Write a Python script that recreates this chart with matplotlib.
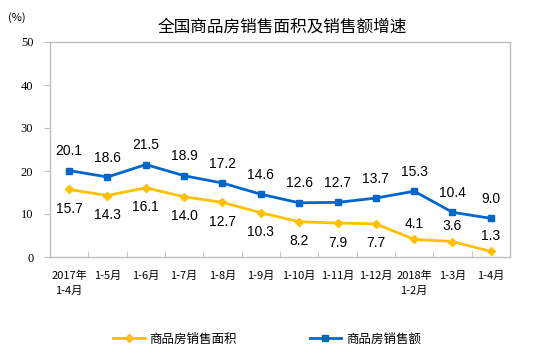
import matplotlib
matplotlib.use("Agg")
import matplotlib.pyplot as plt
import numpy as np

plt.rcParams['font.family'] = ['Noto Sans CJK SC', 'DejaVu Sans']

categories = ["2017年\n1-4月", "1-5月", "1-6月", "1-7月", "1-8月", "1-9月", "1-10月",
              "1-11月", "1-12月", "2018年\n1-2月", "1-3月", "1-4月"]
area = [15.7, 14.3, 16.1, 14.0, 12.7, 10.3, 8.2, 7.9, 7.7, 4.1, 3.6, 1.3]
sales = [20.1, 18.6, 21.5, 18.9, 17.2, 14.6, 12.6, 12.7, 13.7, 15.3, 10.4, 9.0]
area_label_above = [False, False, False, False, False, False, False, False, False, True, True, True]
yticks = [0, 10, 20, 30, 40, 50]

yellow = "#FFC000"
blue = "#0066CC"

fig = plt.figure(figsize=(5.48, 3.53), dpi=100)
ax = fig.add_axes([50/548, 96/353, 460/548, 215/353])
x = np.arange(len(categories))
ax.plot(x, area, color=yellow, lw=2, marker="D", ms=4.5, label="商品房销售面积")
ax.plot(x, sales, color=blue, lw=2, marker="s", ms=4.5, label="商品房销售额")

for xi, v in zip(x, sales):
    ax.annotate(f"{v:.1f}", (xi, v), xytext=(0, 9), textcoords="offset points",
                ha="center", va="bottom", fontsize=10, family="Liberation Sans")
for xi, v, up in zip(x, area, area_label_above):
    if up:
        ax.annotate(f"{v:.1f}", (xi, v), xytext=(0, 6), textcoords="offset points",
                    ha="center", va="bottom", fontsize=10, family="Liberation Sans")
    else:
        ax.annotate(f"{v:.1f}", (xi, v), xytext=(0, -9), textcoords="offset points",
                    ha="center", va="top", fontsize=10, family="Liberation Sans")

ax.set_xlim(-0.5, len(categories) - 0.5)
ax.set_ylim(0, 50)
ax.set_yticks(yticks)
ax.set_yticklabels([str(t) for t in yticks], family="Liberation Serif", fontsize=9)
ax.set_xticks(x)
ax.set_xticklabels(categories, fontsize=8, linespacing=1.6)
ax.set_xticks(np.arange(len(categories) + 1) - 0.5, minor=True)
ax.tick_params(axis="x", which="major", length=0, pad=10)
ax.tick_params(axis="x", which="minor", length=4, direction="in", color="#BFBFBF")
ax.tick_params(axis="y", length=4, direction="out", color="#BFBFBF", pad=8)
for sp in ax.spines.values():
    sp.set_color("#BFBFBF")
    sp.set_linewidth(1)

fig.text(282/548, 1 - 27/353, "全国商品房销售面积及销售额增速", ha="center", va="center", fontsize=12)
fig.text(8/548, 1 - 18/353, "(%)", ha="left", va="center", fontsize=8)

leg = fig.legend(loc="center", bbox_to_anchor=(267/548, 1 - 339/353), ncol=2, frameon=False,
                 fontsize=9, columnspacing=5.8, handlelength=2.5, handletextpad=0.4)

fig.savefig("out.png", dpi=100)
